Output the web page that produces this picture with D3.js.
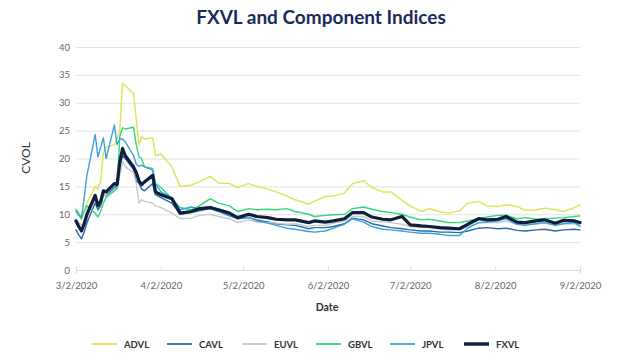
<!DOCTYPE html>
<html>
<head>
<meta charset="utf-8">
<script src="https://cdn.jsdelivr.net/npm/d3@7"></script>
<style>
html,body{margin:0;padding:0;background:#fff;}
svg{display:block;}
</style>
</head>
<body>
<svg id="chart" width="640" height="360"></svg>
<script>
const dates = ["2020-03-02","2020-03-03","2020-03-04","2020-03-05","2020-03-06","2020-03-09","2020-03-10","2020-03-11","2020-03-12","2020-03-13","2020-03-16","2020-03-17","2020-03-18","2020-03-19","2020-03-20","2020-03-23","2020-03-24","2020-03-25","2020-03-26","2020-03-27","2020-03-30","2020-03-31",
"2020-04-02","2020-04-06","2020-04-09","2020-04-13","2020-04-16","2020-04-20","2020-04-23","2020-04-27","2020-04-30",
"2020-05-04","2020-05-07","2020-05-11","2020-05-14","2020-05-18","2020-05-21","2020-05-26","2020-05-28",
"2020-06-01","2020-06-04","2020-06-08","2020-06-11","2020-06-15","2020-06-18","2020-06-22","2020-06-25","2020-06-29",
"2020-07-02","2020-07-06","2020-07-09","2020-07-13","2020-07-16","2020-07-20","2020-07-23","2020-07-27","2020-07-30",
"2020-08-03","2020-08-06","2020-08-10","2020-08-13","2020-08-17","2020-08-20","2020-08-24","2020-08-27","2020-08-31","2020-09-02"];

const ADVL = [11,10,9,10.5,12,15,14.5,16,21,22,22.5,23.5,25,33.5,33,31.7,27,22.4,24,23.5,23.7,20.5,
20.8,18.5,15,15.2,15.8,16.8,15.6,15.5,14.8,
15.5,15,14.5,14,13.3,12.6,11.8,12.3,
13.2,13.3,13.8,15.5,16,14.8,14,14,12.5,
11.5,10.5,11,10.4,10.2,10.6,12,12.3,11.5,
11.4,11.7,11.4,10.7,10.8,11.1,10.8,10.5,11.2,11.7];

const CAVL = [7.2,6.3,5.6,6.8,8.5,12,10.8,11.5,13.5,13.3,14.8,15,18.5,20.5,20,18,16,15.5,14.5,14.2,15.5,13.5,
13,12,10,10.3,10.6,11,10.5,9.7,9.2,
9.4,9,8.6,8.3,8.1,8,7.4,7.6,
7.6,7.8,8.3,9.3,9,8.3,7.9,7.6,7.4,
7.2,7,7,6.8,6.8,6.7,7,7.5,7.6,
7.4,7.5,7.1,7,7.2,7.3,7,7.2,7.3,7.2];

const EUVL = [9,8.5,8,8.8,10,12.5,11.2,12,13.5,13.2,14.3,14.5,17,19.5,18.5,17.5,15.5,12,12.6,12.3,12,11.5,
11.2,10.2,9.2,9.3,9.8,10,9.6,9.2,8.5,
9,8.6,8.5,8.4,8.2,8.3,7.8,8,
8,8.4,8.8,9.6,9.6,8.8,8.6,8.5,8.2,
7.8,7.6,7.6,7.3,7.2,7.2,7.8,8.4,8.5,
8.5,8.8,8.2,8.1,8.3,8.4,8,8.3,8.3,8.1];

const GBVL = [10.8,10.2,9.4,10.5,11.5,10.2,9.5,10.5,12,13,14.2,14.8,24,25.5,25.3,25.6,22.5,20.3,20,18.5,18.2,15.5,
14.8,12.8,11.2,10.8,11.5,12.8,12,11.5,10.5,
11,10.8,10.9,10.8,11,10.5,10,9.6,
9.8,9.9,10,11,11.3,10.9,10.5,10.3,10,
9.5,9,9.1,8.8,8.5,8.5,8.8,9.2,9.5,
9.8,9.8,9.2,9.4,9.1,9.2,9.3,9.4,9.6,9.7];

const JPVL = [10.5,9.8,9.3,13,17,24.3,20.3,22,23.7,20,26,22.5,23.5,23.5,23,20.5,19,18.6,18.8,18.5,17.9,15.5,
14,13,10.8,11.3,11,11.4,10.5,9.8,9.3,
9.5,8.8,8.4,8,7.5,7.3,6.9,6.8,
7,7.5,8.2,9.2,8.6,7.8,7.3,7.2,7,
6.8,6.6,6.6,6.4,6.2,6.2,7.5,8.5,8.6,
8.8,9.2,8.2,8,8.3,8.5,8,8.3,8.5,7.8];

const FXVL = [8.8,7.8,7.0,8.3,10,13.4,11.5,12.3,14.2,14,15.5,15.3,19.5,21.8,20.5,18.5,17.5,16,15.3,15.8,17,14,
13.5,12.8,10.2,10.5,11,11.2,10.8,10.2,9.4,
10,9.6,9.4,9.1,9,9,8.5,8.8,
8.6,8.8,9.2,10.3,10.3,9.5,9.1,9,9.6,
8.1,7.9,7.8,7.6,7.5,7.4,8.2,9.2,9,
9.1,9.6,8.6,8.5,8.8,9,8.4,8.9,8.8,8.5];

const seriesNames = ["ADVL","CAVL","EUVL","GBVL","JPVL","FXVL"];
const yTicks = [0,5,10,15,20,25,30,35,40];
const xTickDates = ["2020-03-02","2020-04-02","2020-05-02","2020-06-02","2020-07-02","2020-08-02","2020-09-02"];

const seriesValues = {ADVL, CAVL, EUVL, GBVL, JPVL, FXVL};
const colors = {ADVL:"#e0e352", CAVL:"#2a6aa8", EUVL:"#c8c8c8", GBVL:"#33d67c", JPVL:"#3ba2d8", FXVL:"#0e1f3e"};
const widths = {ADVL:1.4, CAVL:1.4, EUVL:1.4, GBVL:1.4, JPVL:1.4, FXVL:3.2};

const parse = d3.timeParse("%Y-%m-%d");
const dts = dates.map(parse);

const svg = d3.select("#chart");
const font = "Lato, 'Open Sans', sans-serif";

const x = d3.scaleTime().domain([parse("2020-03-02"), parse("2020-09-02")]).range([76, 580]);
const y = d3.scaleLinear().domain([0, 40]).range([270, 47]);

// title
svg.append("text").attr("x", 321).attr("y", 24).attr("text-anchor","middle")
  .attr("font-family", font).attr("font-weight", 700).attr("font-size", 19)
  .attr("fill", "#1b2a5c").text("FXVL and Component Indices");

// grid
const gy = svg.append("g").attr("transform", "translate(76,0)")
  .call(d3.axisLeft(y).tickValues(yTicks).tickSize(-504).tickPadding(6).tickFormat(d3.format("d")));
gy.select(".domain").remove();
gy.selectAll(".tick line").attr("stroke", "#e2e2e2").attr("stroke-width", 1);
gy.selectAll(".tick text").attr("font-family", font).attr("font-size", 9.5).attr("fill", "#666");

// x axis
const gx = svg.append("g").attr("transform", "translate(0,270)")
  .call(d3.axisBottom(x).tickValues(xTickDates.map(parse)).tickSize(4).tickPadding(8).tickFormat(d3.timeFormat("%-m/%-d/%Y")));
gx.select(".domain").attr("stroke", "#dcdcdc");
gx.selectAll(".tick line").attr("stroke", "#dcdcdc").attr("y1", -3).attr("y2", 1);
gx.selectAll(".tick text").attr("font-family", font).attr("font-size", 9.5).attr("fill", "#666");

// axis titles
svg.append("text").attr("transform", "translate(30,158) rotate(-90)").attr("text-anchor","middle")
  .attr("font-family", font).attr("font-size", 12).attr("fill", "#333").text("CVOL");
svg.append("text").attr("x", 327).attr("y", 311).attr("text-anchor","middle")
  .attr("font-family", font).attr("font-weight", 700).attr("font-size", 10.5).attr("fill", "#333").text("Date");

// lines
const line = d3.line().x((d,i) => x(dts[i])).y(d => y(d));
seriesNames.forEach(name => {
  svg.append("path").datum(seriesValues[name])
    .attr("fill","none").attr("stroke", colors[name]).attr("stroke-width", widths[name])
    .attr("stroke-linejoin","round").attr("stroke-linecap","round")
    .attr("d", line);
});

// legend
const legX = [92, 167, 242, 316, 390, 464];
seriesNames.forEach((name, i) => {
  const g = svg.append("g").attr("transform", `translate(${legX[i]},344)`);
  g.append("line").attr("x1",0).attr("x2",25).attr("y1",0).attr("y2",0)
    .attr("stroke", colors[name]).attr("stroke-width", name === "FXVL" ? 3.5 : 1.8);
  g.append("text").attr("x", 32).attr("y", 3.5).attr("font-family", font).attr("font-weight", 700)
    .attr("font-size", 9.5).attr("fill", "#333").text(name);
});
</script>
</body>
</html>
